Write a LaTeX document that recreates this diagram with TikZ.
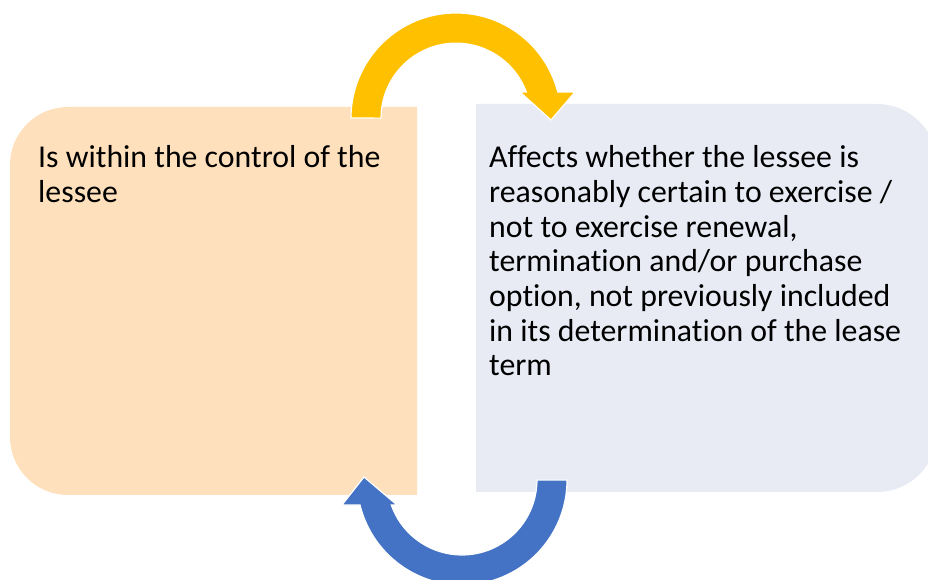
\documentclass[tikz,border=0pt]{standalone}
\usepackage{fontspec}
\setmainfont[Ligatures=NoCommon]{Carlito}
\definecolor{peach}{HTML}{FFE0BC}
\definecolor{mist}{HTML}{E8EAF4}
\definecolor{gold}{HTML}{FFC000}
\definecolor{cobalt}{HTML}{4472C4}
\begin{document}
\begin{tikzpicture}[x=1pt,y=1pt,
  bodytext/.style={anchor=north west, inner sep=0pt, align=left, text=black,
    font=\fontsize{31.8}{34.7}\selectfont},
  cyclearrow/.style={draw=white, line width=1.2pt, line join=miter}]
\useasboundingbox (0,0) rectangle (928,580);
\clip (0,0) rectangle (928,580);

% left panel, rounded on the left side
\fill[peach] (417,473) -- (68,473) arc[start angle=90, end angle=180, radius=58]
  -- (10,143) arc[start angle=180, end angle=270, radius=58] -- (417,85) -- cycle;
% right panel, rounded on the right side
\fill[mist] (476,88) -- (476,476) -- (877,476) arc[start angle=90, end angle=0, radius=60]
  -- (937,148) arc[start angle=0, end angle=-90, radius=60] -- cycle;

\node[bodytext] (control) at (38,434.5) {Is within the control of the\\lessee};
\node[bodytext] (effect) at (489,434.5) {Affects whether the lessee is\\reasonably certain to exercise /\\not to exercise renewal,\\termination and/or purchase\\option, not previously included\\in its determination of the lease\\term};

% upper curved arrow, left panel to right panel
\coordinate (up) at (456,462);
\fill[gold, cyclearrow] (351,462) arc[start angle=180, end angle=14.3, radius=105]
  -- (575,488) -- (551,460) -- (520,488) -- (526.3,488)
  arc[start angle=20.4, end angle=180, radius=75] -- cycle;

% lower curved arrow, right panel back to left panel
\coordinate (down) at (462,100);
\fill[cobalt, cyclearrow] (567,100) arc[start angle=0, end angle=-166.2, radius=105]
  -- (342,75) -- (364,103) -- (397,75) -- (391.3,75)
  arc[start angle=-160.5, end angle=0, radius=75] -- cycle;
\end{tikzpicture}
\end{document}
